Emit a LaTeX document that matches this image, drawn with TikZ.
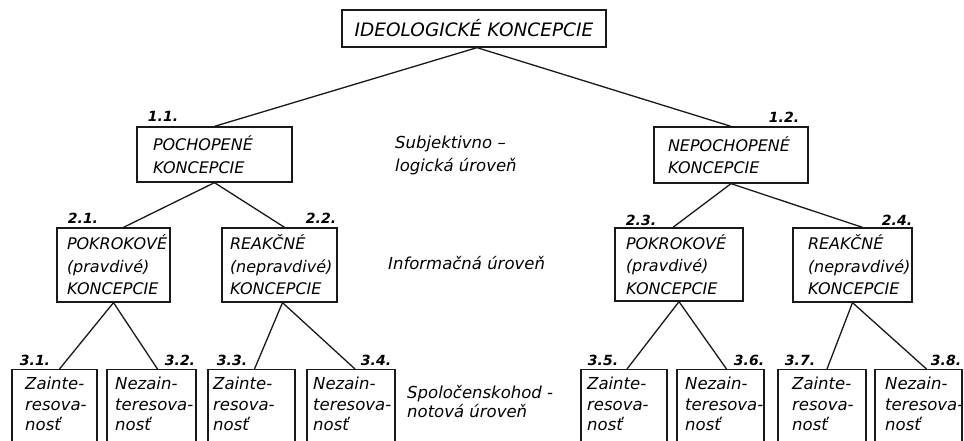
\documentclass[tikz,border=0pt]{standalone}
\usepackage{fontspec}
\setmainfont{DejaVu Sans}[ItalicFont={DejaVu Sans Oblique},BoldItalicFont={DejaVu Sans Bold Oblique}]
\usetikzlibrary{calc}
\newcommand\topfnt{\itshape\fontsize{18.5}{22}\selectfont}
\newcommand\boxfnt{\itshape\fontsize{16}{22.5}\selectfont}
\newcommand\botfnt{\itshape\fontsize{16.5}{20.5}\selectfont}
\newcommand\numfnt{\bfseries\itshape\fontsize{14}{16}\selectfont}
\newcommand\lvlfnt{\itshape\fontsize{16.5}{23}\selectfont}
\tikzset{
  ink/.style={line width=1.3pt, draw=black!90},
  box/.style={ink, rectangle, inner ysep=0pt, align=left},
  bbox/.style={ink, rectangle, inner sep=0pt, anchor=north, minimum height=110pt},
  btext/.style={font=\botfnt, inner sep=0pt, anchor=north west, align=left},
  num/.style={font=\numfnt, inner sep=0pt},
  lvl/.style={font=\lvlfnt, inner sep=0pt, anchor=west, align=left},
  conn/.style={ink}
}
\begin{document}
\begin{tikzpicture}[x=1pt,y=-1pt]
\useasboundingbox[fill=white] (0,0) rectangle (964,441);
\clip (0,0) rectangle (964,441);

% top
\node[ink, rectangle, minimum width=264pt, minimum height=37pt, inner sep=0pt, font=\topfnt] (top) at (474,28.5) {IDEOLOGICKÉ KONCEPCIE};

% level 1
\node[box, font=\boxfnt, minimum height=55pt, inner xsep=16pt, text width=123pt] (l11) at (214.5,154.5) {POCHOPENÉ\\KONCEPCIE};
\node[box, font=\boxfnt, minimum height=56pt, inner xsep=14pt, text width=126pt] (l12) at (731,155) {NEPOCHOPENÉ\\KONCEPCIE};

% level 2
\node[box, font=\boxfnt, minimum height=74pt, inner xsep=10pt, text width=93pt] (l21) at (113.5,265) {POKROKOVÉ\\(pravdivé)\\KONCEPCIE};
\node[box, font=\boxfnt, minimum height=74pt, inner xsep=8pt, text width=99pt] (l22) at (279.5,265) {REAKČNÉ\\(nepravdivé)\\KONCEPCIE};
\node[box, font=\boxfnt, minimum height=73pt, inner xsep=11pt, text width=106pt] (l23) at (679,264.5) {POKROKOVÉ\\(pravdivé)\\KONCEPCIE};
\node[box, font=\boxfnt, minimum height=74pt, inner xsep=15pt, text width=89pt] (l24) at (852.5,265) {REAKČNÉ\\(nepravdivé)\\KONCEPCIE};

% level 3 boxes
\node[bbox, minimum width=85pt] (b31) at (54.5,369) {};
\node[bbox, minimum width=89pt] (b32) at (151.5,369) {};
\node[bbox, minimum width=87pt] (b33) at (251.5,369) {};
\node[bbox, minimum width=88pt] (b34) at (351,369) {};
\node[bbox, minimum width=86pt] (b35) at (624,369) {};
\node[bbox, minimum width=87pt] (b36) at (720.5,369) {};
\node[bbox, minimum width=88pt] (b37) at (822,369) {};
\node[bbox, minimum width=87pt] (b38) at (918.5,369) {};

\node[btext] (t31) at (25,377) {Zainte-\\resova-\\nosť};
\node[btext] (t32) at (115,377) {Nezain-\\teresova-\\nosť};
\node[btext] (t33) at (213,377) {Zainte-\\resova-\\nosť};
\node[btext] (t34) at (313,377) {Nezain-\\teresova-\\nosť};
\node[btext] (t35) at (587,377) {Zainte-\\resova-\\nosť};
\node[btext] (t36) at (685,377) {Nezain-\\teresova-\\nosť};
\node[btext] (t37) at (792,377) {Zainte-\\resova-\\nosť};
\node[btext] (t38) at (885,377) {Nezain-\\teresova-\\nosť};

% level labels
\node[lvl] (lv1) at (395,155) {Subjektivno –\\logická úroveň};
\node[lvl] (lv2) at (388,263) {Informačná úroveň};
\node[lvl, font={\itshape\fontsize{16.5}{19}\selectfont}] (lv3) at (407,402) {Spoločenskohod -\\notová úroveň};

% numbers
\node[num] (n11) at (163,116) {1.1.};
\node[num] (n12) at (784,117) {1.2.};
\node[num] (n21) at (83,218) {2.1.};
\node[num] (n22) at (321,218) {2.2.};
\node[num] (n23) at (641,220) {2.3.};
\node[num] (n24) at (897,220) {2.4.};
\node[num] (n31) at (35,360) {3.1.};
\node[num] (n32) at (180,360) {3.2.};
\node[num] (n33) at (232,360) {3.3.};
\node[num] (n34) at (376,360) {3.4.};
\node[num] (n35) at (603,360) {3.5.};
\node[num] (n36) at (749,360) {3.6.};
\node[num] (n37) at (800,360) {3.7.};
\node[num] (n38) at (946,360) {3.8.};

% connectors
\draw[conn] ([xshift=3pt]top.south) -- (l11.north);
\draw[conn] ([xshift=3pt]top.south) -- (l12.north);
\draw[conn] (l11.south) -- ([xshift=10pt]l21.north);
\draw[conn] (l11.south) -- ([xshift=5pt]l22.north);
\draw[conn] (l12.south) -- ([xshift=-6pt]l23.north);
\draw[conn] (l12.south) -- ([xshift=10pt]l24.north);
\draw[conn] (l21.south) -- ([xshift=5pt]b31.north);
\draw[conn] (l21.south) -- ([xshift=6pt]b32.north);
\draw[conn] ([xshift=3pt]l22.south) -- ([xshift=3pt]b33.north);
\draw[conn] ([xshift=3pt]l22.south) -- ([xshift=4pt]b34.north);
\draw[conn] (l23.south) -- ([xshift=3pt]b35.north);
\draw[conn] (l23.south) -- ([xshift=6pt]b36.north);
\draw[conn] (l24.south) -- ([xshift=5pt]b37.north);
\draw[conn] (l24.south) -- ([xshift=8pt]b38.north);
\end{tikzpicture}
\end{document}
